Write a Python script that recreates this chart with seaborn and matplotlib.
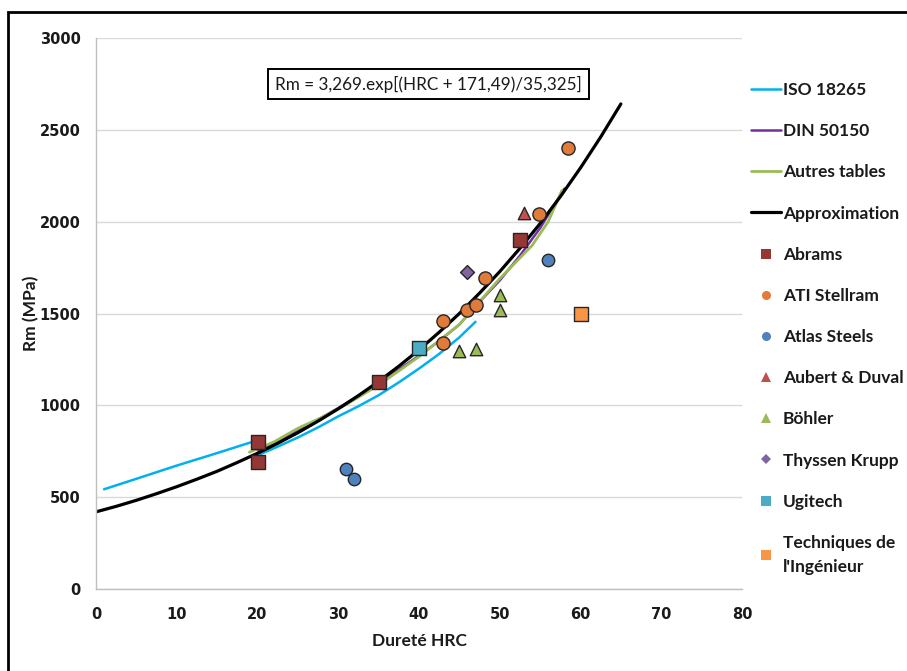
import matplotlib
matplotlib.use("Agg")
import matplotlib.pyplot as plt
import seaborn as sns
import pandas as pd
from matplotlib.lines import Line2D
from matplotlib.patches import Rectangle

# ---- data ----
iso_low_hrc = [1, 5, 10, 15, 20]
iso_low_rm = [543, 600, 672, 740, 810]
iso_high_hrc = [20, 22.5, 25, 27.5, 30, 32.5, 35, 37.5, 40, 42.5, 45, 47]
iso_high_rm = [728, 775, 825, 880, 940, 995, 1055, 1125, 1200, 1280, 1370, 1455]

din_hrc = [20, 25, 30, 35, 40, 42.5, 45, 47, 50, 52.5, 55, 58]
din_rm = [755, 860, 985, 1120, 1270, 1350, 1440, 1540, 1680, 1815, 1965, 2180]

autres_hrc = [19, 22, 25, 28, 31, 35, 40, 45, 50, 54, 56, 57.7]
autres_rm = [745, 800, 875, 935, 1005, 1110, 1265, 1440, 1690, 1870, 2000, 2170]

approx_hrc = [0, 2.5, 5, 7.5, 10, 12.5, 15, 17.5, 20, 22.5, 25, 27.5, 30, 32.5,
              35, 37.5, 40, 42.5, 45, 47.5, 50, 52.5, 55, 57.5, 60, 62.5, 65]
approx_rm = [420, 450, 483, 519, 557, 598, 641, 689, 739, 793, 851, 914, 981, 1053,
             1130, 1213, 1302, 1398, 1500, 1611, 1728, 1855, 1990, 2136, 2293, 2461, 2641]

abrams_hrc = [20, 20, 35, 52.5]
abrams_rm = [800, 690, 1125, 1900]
ati_hrc = [43, 43, 46, 47, 48.2, 54.8, 58.5]
ati_rm = [1458, 1340, 1519, 1548, 1692, 2041, 2400]
atlas_hrc = [31, 32, 56]
atlas_rm = [655, 600, 1790]
aubert_hrc = [53]
aubert_rm = [2047]
bohler_hrc = [45, 47, 50, 50]
bohler_rm = [1298, 1308, 1600, 1520]
thyssen_hrc = [46]
thyssen_rm = [1726]
ugitech_hrc = [40]
ugitech_rm = [1310]
ti_hrc = [60]
ti_rm = [1500]

FONT = ["Lato", "DejaVu Sans"]
sns.set_style("white")
plt.rcParams["font.family"] = FONT

fig = plt.figure(figsize=(9.07, 6.71), dpi=100)
ax = fig.add_axes([96 / 907, 1 - 589 / 671, 646 / 907, 551 / 671])

lines = [
    ("ISO 18265", "#00B0F0", 1.8),
    ("DIN 50150", "#7030A0", 1.8),
    ("Autres tables", "#9BBB59", 2.0),
    ("Approximation", "#000000", 2.3),
]

sns.lineplot(x=iso_low_hrc, y=iso_low_rm, ax=ax, color="#00B0F0", lw=1.8, sort=False)
sns.lineplot(x=iso_high_hrc, y=iso_high_rm, ax=ax, color="#00B0F0", lw=1.8, sort=False)
sns.lineplot(x=din_hrc, y=din_rm, ax=ax, color="#7030A0", lw=1.8, sort=False)
sns.lineplot(x=autres_hrc, y=autres_rm, ax=ax, color="#9BBB59", lw=2.0, sort=False)
sns.lineplot(x=approx_hrc, y=approx_rm, ax=ax, color="black", lw=2.3, sort=False)

points = [
    ("Abrams", abrams_hrc, abrams_rm, "s", "#953735", 90),
    ("ATI Stellram", ati_hrc, ati_rm, "o", "#E07B39", 90),
    ("Atlas Steels", atlas_hrc, atlas_rm, "o", "#4F81BD", 80),
    ("Aubert & Duval", aubert_hrc, aubert_rm, "^", "#C0504D", 80),
    ("Böhler", bohler_hrc, bohler_rm, "^", "#9BBB59", 80),
    ("Thyssen Krupp", thyssen_hrc, thyssen_rm, "D", "#8064A2", 50),
    ("Ugitech", ugitech_hrc, ugitech_rm, "s", "#4BACC6", 100),
    ("Techniques de\nl'Ingénieur", ti_hrc, ti_rm, "s", "#F79646", 90),
]
for name, xs, ys, mk, col, sz in points:
    df = pd.DataFrame({"hrc": xs, "rm": ys})
    sns.scatterplot(data=df, x="hrc", y="rm", ax=ax, marker=mk, color=col,
                    s=sz, edgecolor="#262626", linewidth=1.0, zorder=5)

ax.set_xlim(0, 80)
ax.set_ylim(0, 3000)
ax.set_xticks(range(0, 81, 10))
ax.set_yticks(range(0, 3001, 500))
ax.yaxis.grid(True, color="#D9D9D9", lw=1.0)
ax.xaxis.grid(False)
for side in ["top", "right"]:
    ax.spines[side].set_visible(False)
for side in ["left", "bottom"]:
    ax.spines[side].set_color("#BFBFBF")
    ax.spines[side].set_linewidth(1.0)
ax.tick_params(axis="both", which="both", direction="out", length=6, width=1,
               color="#BFBFBF", labelcolor="#1A1A1A", pad=5)
ax.tick_params(axis="x", pad=7)
for lab in ax.get_xticklabels() + ax.get_yticklabels():
    lab.set_fontweight("bold")
    lab.set_fontfamily("DejaVu Sans")
    lab.set_fontsize(10.5)

ax.set_xlabel("Dureté HRC", fontsize=12.5, fontweight="bold", color="#1A1A1A")
ax.set_ylabel("Rm (MPa)", fontsize=12.5, fontweight="bold", color="#1A1A1A")
ax.xaxis.set_label_coords(0.5, (589 - 641) / 551)
ax.xaxis.label.set_va("center")
ax.yaxis.set_label_coords(-(96 - 31) / 646, 0.5)
ax.yaxis.label.set_va("center")

ax.text(41.2, 2749, "Rm = 3,269.exp[(HRC + 171,49)/35,325]", ha="center", va="center",
        fontsize=12.3, color="#1A1A1A",
        bbox=dict(boxstyle="square,pad=0.4", facecolor="white", edgecolor="black", lw=1.4))

# legend
handles = [Line2D([], [], color=c, lw=lw) for _, c, lw in lines]
labels = [n for n, _, _ in lines]
for name, xs, ys, mk, col, sz in points:
    handles.append(Line2D([], [], ls="none", marker=mk, color=col,
                          markersize=6.5 if mk != "D" else 5.5, markeredgewidth=0))
    labels.append(name)
leg = fig.legend(handles, labels, loc="upper left", bbox_to_anchor=(751 / 907, 1 - 82 / 671),
                 frameon=False, fontsize=12.5, handlelength=1.7, handletextpad=0.15,
                 labelspacing=1.45, borderaxespad=0, borderpad=0)
for t in leg.get_texts():
    t.set_fontweight("bold")
    t.set_color("#1A1A1A")
leg.get_texts()[-1].set_linespacing(1.6)

# outer frame of the chart area
top = 1 - 12 / 671
fig.patches.append(Rectangle((8 / 907, -0.2), 1.3, top + 0.2,
                             transform=fig.transFigure, fill=False, edgecolor="black",
                             lw=2.0, clip_on=False))

fig.savefig("out.png", dpi=100)
